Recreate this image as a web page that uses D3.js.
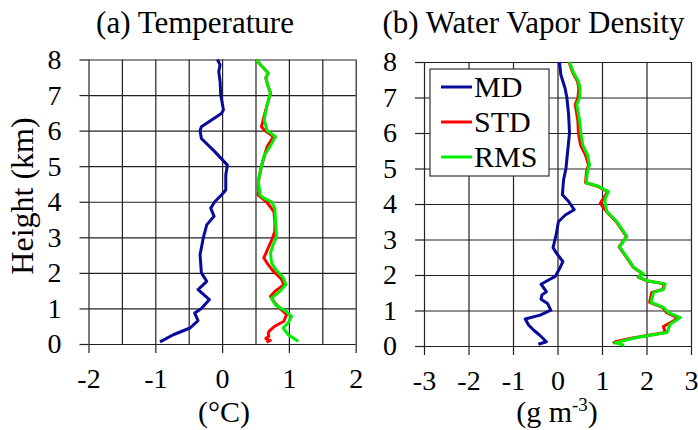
<!DOCTYPE html>
<meta charset="utf-8">

<!-- Load d3.js -->
<script src="https://d3js.org/d3.v7.min.js"></script>

<style>
  body { margin: 0; background: #fff; }
</style>

<!-- Create a div where the graph will take place -->
<div id="my_dataviz"></div>

<script>

    // ---- data: heights in km, values per series ----

    // (a) Temperature, degC
    var tempMdHeight  = [0.06, 0.26, 0.45, 0.66, 0.87, 1.0, 1.25, 1.53, 1.76, 2.0, 2.51, 3.0, 3.35, 3.59, 3.82, 4.0, 4.19, 4.33, 4.75, 5.03, 5.41, 5.78, 6.0, 6.11, 6.48, 6.58, 7.0, 7.38, 7.66, 7.85, 8.0];
    var tempMdValue   = [-0.93, -0.73, -0.48, -0.36, -0.41, -0.31, -0.19, -0.36, -0.23, -0.31, -0.33, -0.28, -0.23, -0.12, -0.17, -0.11, -0.01, 0.055, 0.055, 0.08, -0.11, -0.31, -0.33, -0.31, -0.01, 0.02, -0.02, -0.03, -0.05, -0.03, -0.07];

    var tempStdHeight = [0.05, 0.1, 0.15, 0.22, 0.3, 0.36, 0.5, 0.64, 0.83, 0.96, 1.15, 1.34, 1.48, 1.67, 1.82, 2.05, 2.23, 2.42, 2.7, 2.98, 3.17, 3.45, 3.72, 4.0, 4.19, 4.3, 4.56, 5.0, 5.3, 5.55, 5.83, 6.0, 6.11, 6.3, 6.73, 7.06, 7.24, 7.48, 7.62, 7.85, 8.0];
    var tempStdValue  = [0.665, 0.72, 0.655, 0.70, 0.69, 0.705, 0.79, 0.925, 0.965, 0.89, 0.79, 0.725, 0.79, 0.925, 0.89, 0.765, 0.69, 0.625, 0.69, 0.755, 0.79, 0.79, 0.775, 0.665, 0.54, 0.55, 0.54, 0.59, 0.635, 0.675, 0.77, 0.64, 0.59, 0.615, 0.675, 0.725, 0.69, 0.655, 0.69, 0.575, 0.515];

    var tempRmsHeight = [0.08, 0.26, 0.45, 0.6, 0.78, 0.92, 1.1, 1.29, 1.48, 1.67, 1.86, 2.1, 2.28, 2.56, 2.8, 3.0, 3.45, 3.82, 4.0, 4.1, 4.19, 4.3, 4.56, 5.0, 5.3, 5.55, 5.83, 6.0, 6.3, 6.73, 7.06, 7.24, 7.48, 7.62, 7.85, 8.0];
    var tempRmsValue  = [1.14, 0.99, 0.915, 0.99, 1.04, 0.955, 0.80, 0.74, 0.865, 0.955, 0.915, 0.80, 0.74, 0.725, 0.765, 0.815, 0.80, 0.79, 0.74, 0.625, 0.565, 0.565, 0.54, 0.59, 0.63, 0.715, 0.80, 0.675, 0.63, 0.675, 0.725, 0.69, 0.655, 0.69, 0.575, 0.515];

    // (b) Water vapor density, g m-3
    var wvMdHeight  = [0.05, 0.12, 0.31, 0.45, 0.59, 0.76, 0.87, 1.01, 1.2, 1.32, 1.44, 1.53, 1.74, 1.86, 1.96, 2.19, 2.38, 2.61, 2.77, 3.13, 3.5, 3.69, 3.84, 4.07, 4.26, 4.67, 5.0, 5.38, 6.0, 6.51, 7.0, 7.26, 7.64, 8.0];
    var wvMdValue   = [-0.43, -0.25, -0.405, -0.54, -0.65, -0.725, -0.39, -0.15, -0.225, -0.37, -0.35, -0.25, -0.37, -0.2, -0.05, 0.05, 0.12, -0.02, -0.10, -0.03, 0.02, 0.175, 0.375, 0.25, 0.11, 0.135, 0.19, 0.22, 0.27, 0.25, 0.21, 0.17, 0.075, 0.045];

    var wvStdHeight = [0.07, 0.12, 0.23, 0.38, 0.55, 0.72, 0.8, 0.94, 1.09, 1.23, 1.51, 1.59, 1.75, 1.84, 1.94, 2.03, 2.22, 2.5, 2.79, 3.08, 3.5, 3.79, 4.02, 4.15, 4.35, 4.5, 4.6, 4.93, 5.1, 5.38, 5.65, 6.0, 6.32, 6.8, 7.0, 7.26, 7.45, 7.74, 8.0];
    var wvStdValue  = [1.25, 1.30, 1.72, 2.42, 2.38, 2.62, 2.70, 2.45, 2.36, 2.07, 2.12, 2.36, 2.40, 2.00, 1.81, 1.92, 1.70, 1.55, 1.385, 1.55, 1.32, 1.10, 0.96, 1.03, 1.13, 0.90, 0.63, 0.655, 0.70, 0.63, 0.52, 0.47, 0.46, 0.40, 0.46, 0.48, 0.45, 0.33, 0.26];

    var wvRmsHeight = [0.02, 0.09, 0.23, 0.38, 0.61, 0.8, 0.94, 1.09, 1.23, 1.51, 1.59, 1.75, 1.84, 1.94, 2.03, 2.22, 2.5, 2.79, 3.08, 3.5, 3.79, 4.02, 4.15, 4.35, 4.5, 4.6, 4.93, 5.1, 5.38, 5.65, 6.0, 6.32, 6.8, 7.0, 7.26, 7.45, 7.74, 8.0];
    var wvRmsValue  = [1.50, 1.30, 1.75, 2.46, 2.53, 2.76, 2.49, 2.38, 2.10, 2.16, 2.38, 2.42, 2.01, 1.82, 1.93, 1.71, 1.56, 1.395, 1.56, 1.335, 1.11, 1.07, 1.07, 1.145, 0.92, 0.645, 0.675, 0.72, 0.675, 0.57, 0.525, 0.50, 0.435, 0.50, 0.51, 0.47, 0.345, 0.27];

    // axes / legend
    var heightTicks = [0, 1, 2, 3, 4, 5, 6, 7, 8];
    var tempTicks   = [-2, -1, 0, 1, 2];
    var tempGrid    = [-2, -1.5, -1, -0.5, 0, 0.5, 1, 1.5, 2];
    var wvTicks     = [-3, -2, -1, 0, 1, 2, 3];
    var seriesNames  = ["MD", "STD", "RMS"];
    var seriesColors = ["#0a0a9a", "#ff0000", "#00ee00"];

    var serif = "Liberation Serif";

    function pts(h, v) {
      return h.map(function(d, i) { return {h: d, v: v[i]}; });
    }

    var svg = d3.select("#my_dataviz")
      .append("svg")
        .attr("width", 698)
        .attr("height", 430)
        .attr("font-family", serif);

    function drawPanel(p) {
      var x = d3.scaleLinear().domain(p.domain).range([p.left, p.right]);
      var y = d3.scaleLinear().domain([0, 8]).range([p.bottom, p.top]);
      var g = svg.append("g");

      // grid
      g.append("g")
        .attr("transform", "translate(" + p.left + ",0)")
        .call(d3.axisLeft(y).tickValues(heightTicks).tickSize(-(p.right - p.left)).tickFormat(""))
        .call(function(a) { a.select(".domain").remove(); });
      g.append("g")
        .attr("transform", "translate(0," + p.bottom + ")")
        .call(d3.axisBottom(x).tickValues(p.grid).tickSize(-(p.bottom - p.top)).tickFormat(""))
        .call(function(a) { a.select(".domain").remove(); });
      g.selectAll(".tick line").attr("stroke", "#222").attr("stroke-width", 1.2);

      // Y axis
      var ya = g.append("g")
        .attr("transform", "translate(" + p.left + ",0)")
        .call(d3.axisLeft(y).tickValues(heightTicks).tickSize(9).tickPadding(18).tickFormat(function(d) { return String(d); }))
        .attr("font-family", serif)
        .attr("font-size", 28);
      ya.select(".domain").remove();
      ya.selectAll("line").attr("stroke", "#222").attr("stroke-width", 1.2);

      // X axis
      var xa = g.append("g")
        .attr("transform", "translate(0," + p.bottom + ")")
        .call(d3.axisBottom(x).tickValues(p.ticks).tickSize(9).tickFormat(function(d) { return String(d); }))
        .attr("font-family", serif)
        .attr("font-size", 28);
      xa.select(".domain").remove();
      xa.selectAll("text").attr("y", 44).attr("dy", 0);
      xa.selectAll("line").attr("stroke", "#222").attr("stroke-width", 1.2);

      // Lines
      var line = d3.line()
        .x(function(d) { return x(d.v); })
        .y(function(d) { return y(d.h); });
      g.selectAll("myLines")
        .data(p.series)
        .enter()
        .append("path")
          .attr("d", function(d) { return line(d); })
          .attr("stroke", function(d, i) { return seriesColors[i]; })
          .style("stroke-width", 3)
          .style("stroke-linejoin", "round")
          .style("fill", "none");

      // title
      g.append("text")
        .attr("x", p.titleX)
        .attr("y", 33)
        .attr("text-anchor", "middle")
        .attr("font-size", 31)
        .text(p.title);

      return {g: g, x: x, y: y};
    }

    drawPanel({
      domain: [-2, 2], left: 88.5, right: 355.7, top: 59.5, bottom: 344,
      ticks: tempTicks, grid: tempGrid, title: "(a) Temperature", titleX: 195,
      series: [pts(tempMdHeight, tempMdValue), pts(tempStdHeight, tempStdValue), pts(tempRmsHeight, tempRmsValue)]
    });

    var pb = drawPanel({
      domain: [-3, 3], left: 424, right: 691, top: 62, bottom: 346,
      ticks: wvTicks, grid: wvTicks, title: "(b) Water Vapor Density", titleX: 533.5,
      series: [pts(wvMdHeight, wvMdValue), pts(wvStdHeight, wvStdValue), pts(wvRmsHeight, wvRmsValue)]
    });

    // Y axis label
    svg.append("text")
      .attr("text-anchor", "middle")
      .attr("transform", "translate(33,196) rotate(-90)")
      .attr("font-size", 32)
      .text("Height (km)");

    // X axis labels
    svg.append("text")
      .attr("x", 224)
      .attr("y", 422)
      .attr("text-anchor", "middle")
      .attr("font-size", 30)
      .text("(°C)");

    var wl = svg.append("text")
      .attr("x", 557)
      .attr("y", 422)
      .attr("text-anchor", "middle")
      .attr("font-size", 30);
    wl.append("tspan").text("(g m");
    wl.append("tspan").attr("dy", -11).attr("font-size", 19).text("-3");
    wl.append("tspan").attr("dy", 11).text(")");

    // legend
    var lg = pb.g.append("g");
    lg.append("rect")
      .attr("x", 430).attr("y", 69).attr("width", 119).attr("height", 107)
      .attr("fill", "#fff").attr("stroke", "#333").attr("stroke-width", 1.2);
    seriesNames.forEach(function(name, i) {
      var ly = 87 + i * 35;
      lg.append("line")
        .attr("x1", 441).attr("x2", 472).attr("y1", ly).attr("y2", ly)
        .attr("stroke", seriesColors[i]).attr("stroke-width", 3);
      lg.append("text")
        .attr("x", 474).attr("y", ly + 10)
        .attr("font-size", 30)
        .text(name);
    });

</script>
